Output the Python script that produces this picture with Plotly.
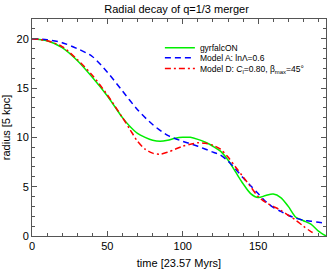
import plotly.graph_objects as go

# gyrfalcON (N-body)
green_t = [0, 10, 20, 30, 40, 50, 60, 65, 70, 75, 80, 85, 90, 95, 100, 105, 110, 115, 120, 125, 130, 135, 140, 145, 150, 155, 160, 165, 170, 175, 180, 185, 190, 195]
green_r = [20.0, 19.8, 19.1, 17.8, 16.1, 14.2, 12.0, 11.1, 10.4, 10.0, 9.7, 9.6, 9.7, 9.9, 10.0, 10.0, 9.8, 9.5, 9.1, 8.6, 7.7, 6.5, 5.3, 4.3, 3.9, 4.1, 4.25, 3.9, 3.0, 1.9, 1.55, 1.2, 0.5, 0.0]

# Model A
blue_t = [0, 10, 20, 30, 40, 50, 60, 70, 80, 90, 100, 110, 120, 125, 130, 135, 140, 145, 150, 155, 160, 165, 170, 175, 180, 185, 190, 195]
blue_r = [20.0, 19.9, 19.6, 19.0, 18.2, 16.6, 14.7, 12.8, 11.3, 10.2, 9.6, 9.1, 8.5, 8.2, 7.6, 6.8, 5.9, 5.1, 4.3, 3.5, 2.9, 2.5, 2.1, 1.8, 1.6, 1.5, 1.4, 1.3]

# Model D
red_t = [0, 10, 20, 30, 40, 50, 60, 65, 70, 75, 80, 85, 90, 95, 100, 105, 110, 115, 120, 125, 130, 135, 140, 145, 150, 155, 160, 165, 170, 175, 180, 185, 187]
red_r = [20.0, 19.8, 19.2, 17.9, 16.3, 14.3, 12.0, 10.8, 9.6, 8.8, 8.4, 8.3, 8.5, 8.8, 9.1, 9.3, 9.45, 9.4, 9.2, 8.8, 8.0, 7.0, 6.0, 5.0, 4.0, 3.4, 3.0, 2.6, 2.1, 1.6, 1.0, 0.45, 0.3]

x_ticks = [0, 50, 100, 150]
y_ticks = [0, 5, 10, 15, 20]

fig = go.Figure()
fig.add_trace(go.Scatter(x=green_t, y=green_r, mode="lines", name="gyrfalcON", legend="legend",
                         line=dict(color="#00ee00", width=1.5, shape="spline", smoothing=0.8)))
fig.add_trace(go.Scatter(x=blue_t, y=blue_r, mode="lines", name="Model A: lnΛ=0.6", legend="legend2",
                         line=dict(color="#0000ff", width=1.5, dash="6px,4px", shape="spline", smoothing=0.8)))
fig.add_trace(go.Scatter(x=red_t, y=red_r, mode="lines", legend="legend3",
                         name="Model D: <i>C</i><sub>l</sub>=0.80, β<sub>max</sub>=45°",
                         line=dict(color="#ff0000", width=1.5, dash="6px,3px,2px,3px", shape="spline", smoothing=0.8)))

axis_common = dict(showline=True, linecolor="#555555", linewidth=1, mirror="ticks",
                   ticks="inside", ticklen=5, tickcolor="#555555", showgrid=False, zeroline=False,
                   tickfont=dict(size=11, color="black"))

fig.update_xaxes(range=[0, 195], tickvals=x_ticks,
                 minor=dict(dtick=10, ticks="inside", ticklen=3, tickcolor="#555555", showgrid=False),
                 title=dict(text="time [23.57 Myrs]", font=dict(size=11), standoff=8), **axis_common)
fig.update_yaxes(range=[0, 22], tickvals=y_ticks,
                 minor=dict(dtick=1, ticks="inside", ticklen=3, tickcolor="#555555", showgrid=False),
                 title=dict(text="radius [5 kpc]", font=dict(size=11), standoff=4), **axis_common)

leg = dict(x=0.435, xanchor="left", yanchor="middle", bgcolor="rgba(0,0,0,0)", font=dict(size=8.5))
fig.update_layout(
    width=327, height=271,
    margin=dict(l=32, r=1, t=19, b=35),
    plot_bgcolor="white", paper_bgcolor="white",
    font=dict(family="Liberation Sans, Arial, sans-serif", color="black"),
    title=dict(text="Radial decay of q=1/3 merger", x=0.54, xanchor="center", y=0.965, yanchor="middle",
               font=dict(size=11)),
    legend=dict(y=0.868, **leg),
    legend2=dict(y=0.822, **leg),
    legend3=dict(y=0.772, **leg),
    showlegend=True,
)

fig.write_html("out.html", config={"displayModeBar": False},
               post_script="document.body.style.margin='0px';document.body.style.overflow='hidden';")
